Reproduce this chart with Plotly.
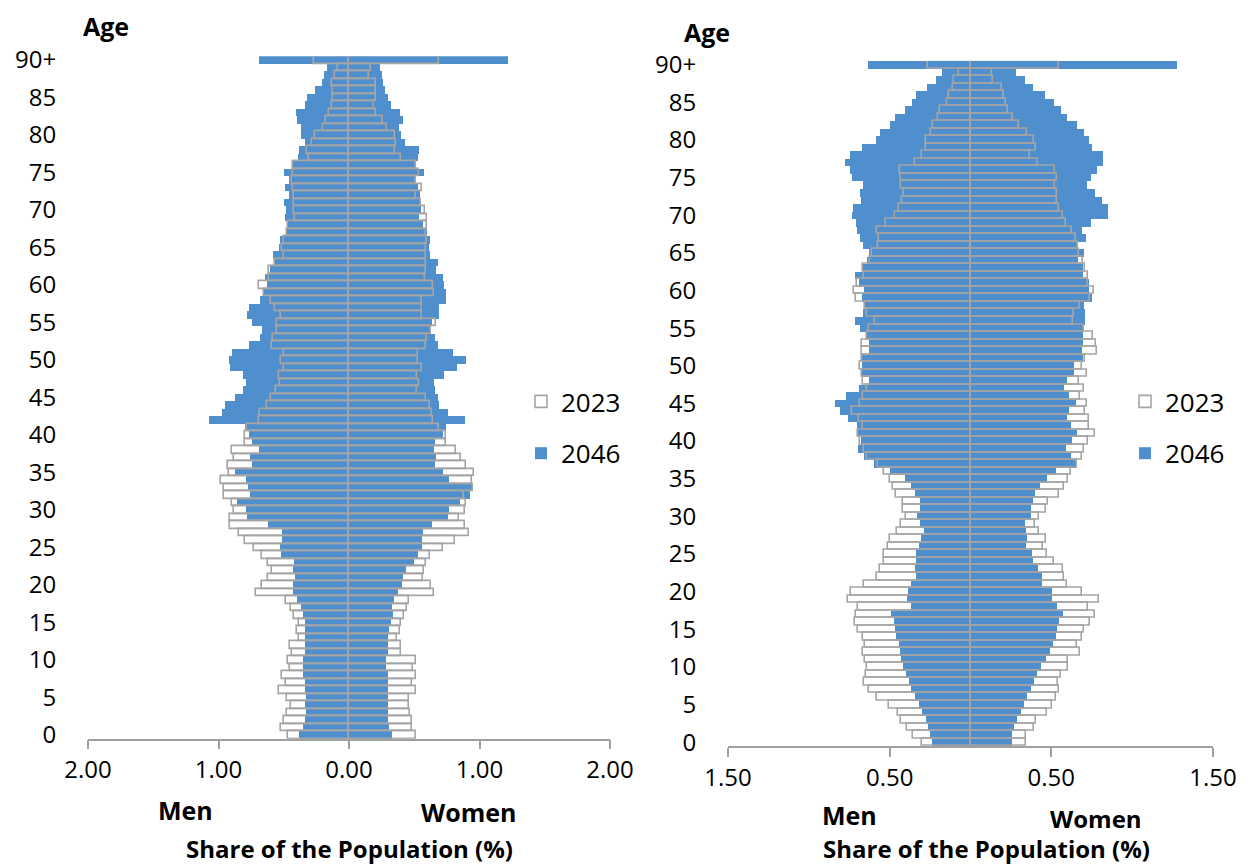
import plotly.graph_objects as go

ages = [str(i) for i in range(90)] + ["90+"]
age_ticks = [str(i) for i in range(0, 90, 5)] + ["90+"]

# ---------------- Left chart ----------------
left_men_2023 = [0.47, 0.523, 0.495, 0.477, 0.444, 0.475, 0.54, 0.48, 0.51, 0.45,
                 0.464, 0.434, 0.454, 0.38, 0.40, 0.38, 0.42, 0.446, 0.48, 0.714,
                 0.666, 0.62, 0.59, 0.62, 0.67, 0.73, 0.80, 0.84, 0.91, 0.91,
                 0.885, 0.90, 0.957, 0.957, 0.98, 0.92, 0.93, 0.88, 0.90, 0.80,
                 0.80, 0.78, 0.69, 0.68, 0.63, 0.60, 0.56, 0.525, 0.54, 0.50,
                 0.52, 0.50, 0.59, 0.58, 0.55, 0.55, 0.52, 0.57, 0.60, 0.65,
                 0.69, 0.61, 0.615, 0.57, 0.50, 0.51, 0.50, 0.477, 0.47, 0.416,
                 0.42, 0.42, 0.42, 0.426, 0.44, 0.426, 0.43, 0.31, 0.32, 0.28,
                 0.26, 0.20, 0.18, 0.15, 0.133, 0.125, 0.125, 0.128, 0.11, 0.087,
                 0.27]
left_women_2023 = [0.51, 0.48, 0.48, 0.464, 0.457, 0.457, 0.51, 0.48, 0.51, 0.49,
                   0.51, 0.40, 0.40, 0.365, 0.39, 0.40, 0.42, 0.444, 0.46, 0.65,
                   0.625, 0.564, 0.574, 0.59, 0.62, 0.72, 0.81, 0.92, 0.89, 0.845,
                   0.89, 0.90, 0.885, 0.95, 0.94, 0.957, 0.90, 0.855, 0.82, 0.745,
                   0.74, 0.69, 0.64, 0.635, 0.62, 0.59, 0.52, 0.536, 0.52, 0.556,
                   0.53, 0.53, 0.59, 0.60, 0.63, 0.67, 0.556, 0.56, 0.56, 0.65,
                   0.64, 0.58, 0.59, 0.59, 0.59, 0.59, 0.60, 0.59, 0.60, 0.60,
                   0.58, 0.55, 0.515, 0.56, 0.51, 0.54, 0.515, 0.40, 0.35, 0.36,
                   0.355, 0.288, 0.258, 0.204, 0.19, 0.21, 0.207, 0.207, 0.153, 0.166,
                   0.69]
left_men_2046 = [0.385, 0.355, 0.34, 0.33, 0.337, 0.33, 0.337, 0.34, 0.355, 0.355,
                 0.35, 0.34, 0.34, 0.34, 0.34, 0.34, 0.352, 0.37, 0.395, 0.426,
                 0.426, 0.416, 0.426, 0.42, 0.52, 0.525, 0.51, 0.51, 0.62, 0.78,
                 0.79, 0.855, 0.755, 0.775, 0.79, 0.87, 0.745, 0.76, 0.69, 0.745,
                 0.77, 0.80, 1.07, 0.97, 0.95, 0.87, 0.81, 0.79, 0.81, 0.91,
                 0.92, 0.90, 0.77, 0.68, 0.67, 0.74, 0.78, 0.77, 0.68, 0.65,
                 0.63, 0.64, 0.605, 0.57, 0.58, 0.54, 0.53, 0.48, 0.47, 0.49,
                 0.48, 0.50, 0.46, 0.49, 0.46, 0.50, 0.43, 0.39, 0.38, 0.34,
                 0.365, 0.37, 0.40, 0.41, 0.34, 0.32, 0.263, 0.21, 0.19, 0.17,
                 0.69]
left_women_2046 = [0.327, 0.306, 0.30, 0.30, 0.30, 0.30, 0.296, 0.30, 0.30, 0.28,
                   0.286, 0.30, 0.30, 0.30, 0.31, 0.32, 0.334, 0.33, 0.344, 0.378,
                   0.405, 0.41, 0.44, 0.50, 0.53, 0.56, 0.56, 0.566, 0.635, 0.755,
                   0.77, 0.85, 0.93, 0.95, 0.77, 0.72, 0.656, 0.67, 0.65, 0.66,
                   0.72, 0.745, 0.89, 0.76, 0.69, 0.68, 0.66, 0.65, 0.73, 0.83,
                   0.90, 0.80, 0.68, 0.66, 0.62, 0.635, 0.69, 0.69, 0.74, 0.74,
                   0.73, 0.72, 0.67, 0.68, 0.62, 0.61, 0.62, 0.60, 0.57, 0.536,
                   0.55, 0.55, 0.546, 0.53, 0.515, 0.574, 0.515, 0.53, 0.54, 0.43,
                   0.40, 0.38, 0.41, 0.39, 0.32, 0.30, 0.273, 0.263, 0.255, 0.237,
                   1.22]

# ---------------- Right chart ----------------
right_men_2023 = [0.299, 0.356, 0.394, 0.433, 0.447, 0.507, 0.579, 0.627, 0.66, 0.645,
                  0.641, 0.65, 0.666, 0.65, 0.664, 0.698, 0.717, 0.707, 0.698, 0.76,
                  0.742, 0.66, 0.579, 0.562, 0.533, 0.533, 0.513, 0.50, 0.455, 0.43,
                  0.402, 0.42, 0.42, 0.46, 0.478, 0.497, 0.538, 0.575, 0.64, 0.656,
                  0.682, 0.695, 0.664, 0.689, 0.73, 0.684, 0.664, 0.64, 0.664, 0.674,
                  0.682, 0.67, 0.674, 0.674, 0.641, 0.626, 0.593, 0.641, 0.654, 0.71,
                  0.72, 0.705, 0.658, 0.668, 0.623, 0.608, 0.573, 0.563, 0.58, 0.52,
                  0.47, 0.445, 0.423, 0.412, 0.43, 0.43, 0.437, 0.342, 0.303, 0.278,
                  0.278, 0.247, 0.23, 0.204, 0.186, 0.148, 0.132, 0.111, 0.10, 0.07,
                  0.266]
right_women_2023 = [0.345, 0.345, 0.394, 0.405, 0.472, 0.505, 0.526, 0.547, 0.54, 0.562,
                    0.60, 0.60, 0.68, 0.656, 0.687, 0.703, 0.738, 0.767, 0.726, 0.793,
                    0.692, 0.594, 0.58, 0.572, 0.516, 0.475, 0.448, 0.465, 0.425, 0.40,
                    0.425, 0.47, 0.482, 0.547, 0.58, 0.602, 0.62, 0.66, 0.689, 0.705,
                    0.726, 0.77, 0.736, 0.736, 0.71, 0.72, 0.676, 0.70, 0.674, 0.72,
                    0.687, 0.71, 0.784, 0.775, 0.759, 0.705, 0.637, 0.641, 0.678, 0.74,
                    0.763, 0.728, 0.728, 0.71, 0.697, 0.672, 0.662, 0.65, 0.63, 0.59,
                    0.57, 0.548, 0.534, 0.538, 0.52, 0.534, 0.52, 0.42, 0.37, 0.408,
                    0.39, 0.348, 0.297, 0.262, 0.23, 0.22, 0.21, 0.194, 0.14, 0.132,
                    0.55]
right_men_2046 = [0.24, 0.249, 0.262, 0.278, 0.297, 0.32, 0.346, 0.367, 0.383, 0.40,
                  0.42, 0.427, 0.437, 0.445, 0.458, 0.465, 0.476, 0.49, 0.365, 0.395,
                  0.387, 0.369, 0.34, 0.342, 0.34, 0.335, 0.32, 0.304, 0.29, 0.315,
                  0.328, 0.315, 0.315, 0.346, 0.369, 0.406, 0.497, 0.60, 0.66, 0.697,
                  0.676, 0.695, 0.70, 0.76, 0.81, 0.84, 0.77, 0.689, 0.625, 0.67,
                  0.67, 0.67, 0.63, 0.63, 0.645, 0.684, 0.713, 0.666, 0.654, 0.67,
                  0.656, 0.69, 0.717, 0.666, 0.64, 0.625, 0.662, 0.684, 0.70, 0.707,
                  0.734, 0.724, 0.678, 0.682, 0.664, 0.73, 0.748, 0.777, 0.744, 0.67,
                  0.583, 0.557, 0.50, 0.466, 0.406, 0.36, 0.336, 0.27, 0.216, 0.175,
                  0.633]
right_women_2046 = [0.254, 0.256, 0.266, 0.29, 0.312, 0.332, 0.35, 0.372, 0.392, 0.41,
                    0.437, 0.465, 0.49, 0.513, 0.53, 0.536, 0.545, 0.575, 0.534, 0.504,
                    0.504, 0.443, 0.44, 0.415, 0.388, 0.382, 0.345, 0.35, 0.345, 0.34,
                    0.377, 0.373, 0.386, 0.40, 0.427, 0.472, 0.53, 0.65, 0.62, 0.588,
                    0.627, 0.656, 0.62, 0.596, 0.612, 0.65, 0.608, 0.577, 0.596, 0.638,
                    0.638, 0.693, 0.687, 0.695, 0.695, 0.705, 0.707, 0.707, 0.705, 0.75,
                    0.736, 0.736, 0.695, 0.697, 0.662, 0.70, 0.666, 0.713, 0.69, 0.748,
                    0.85, 0.85, 0.816, 0.767, 0.72, 0.746, 0.78, 0.82, 0.82, 0.753,
                    0.73, 0.70, 0.66, 0.598, 0.557, 0.515, 0.46, 0.388, 0.334, 0.28,
                    1.28]

left_xticks = [-2, -1, 0, 1, 2]
left_xtext = ["2.00", "1.00", "0.00", "1.00", "2.00"]
right_xticks = [-1.5, -0.5, 0.5, 1.5]
right_xtext = ["1.50", "0.50", "0.50", "1.50"]

BLUE = "#4F8FCD"
GRAY = "#A5A5A5"
AXIS = "#A0A0A0"
FONT = "Open Sans"

fig = go.Figure()


def add_pyramid(men23, women23, men46, women46, xa, ya, legend):
    fig.add_trace(go.Bar(y=ages, x=[-v for v in men46], orientation="h", name="2046",
                         marker=dict(color=BLUE, line=dict(width=0)), xaxis=xa, yaxis=ya,
                         legend=legend, legendgroup="b", legendrank=2, showlegend=True))
    fig.add_trace(go.Bar(y=ages, x=women46, orientation="h", name="2046",
                         marker=dict(color=BLUE, line=dict(width=0)), xaxis=xa, yaxis=ya,
                         legend=legend, legendgroup="b", showlegend=False))
    fig.add_trace(go.Bar(y=ages, x=[-v for v in men23], orientation="h", name="2023",
                         marker=dict(color="rgba(255,255,255,0)", line=dict(color=GRAY, width=1.6)),
                         xaxis=xa, yaxis=ya, legend=legend, legendgroup="a", legendrank=1,
                         showlegend=True))
    fig.add_trace(go.Bar(y=ages, x=women23, orientation="h", name="2023",
                         marker=dict(color="rgba(255,255,255,0)", line=dict(color=GRAY, width=1.6)),
                         xaxis=xa, yaxis=ya, legend=legend, legendgroup="a", showlegend=False))


add_pyramid(left_men_2023, left_women_2023, left_men_2046, left_women_2046, "x", "y", "legend")
add_pyramid(right_men_2023, right_women_2023, right_men_2046, right_women_2046, "x2", "y2", "legend2")

# page body has an 8px margin: figure pixel = screen pixel - 8
OFF = 8
W, H = 1250 - OFF, 867 - OFF


def px(x):
    return (x - OFF) / W


def py(y):
    return 1 - (y - OFF) / H


xaxis_common = dict(showgrid=False, zeroline=False, showline=True, linecolor=AXIS, linewidth=1.5,
                    ticks="outside", ticklen=9, tickcolor=AXIS, tickwidth=1.5, automargin=False,
                    tickfont=dict(family=FONT, size=24, color="#000"), fixedrange=True)
yaxis_common = dict(type="category", categoryorder="array", categoryarray=ages,
                    tickmode="array", tickvals=age_ticks, ticktext=age_ticks,
                    showgrid=False, zeroline=False, showline=False, automargin=False,
                    ticks="outside", ticklen=26, tickcolor="rgba(0,0,0,0)",
                    tickfont=dict(family=FONT, size=24, color="#000"),
                    range=[-0.5, 90.5], fixedrange=True)

legend_common = dict(font=dict(family=FONT, size=26, color="#000"), bgcolor="rgba(0,0,0,0)",
                     traceorder="grouped", tracegroupgap=15, xanchor="left", yanchor="top",
                     itemclick=False, itemdoubleclick=False)

fig.update_layout(
    width=W, height=H,
    margin=dict(l=0, r=0, t=0, b=0, autoexpand=False),
    paper_bgcolor="white", plot_bgcolor="white",
    barmode="overlay", bargap=0,
    showlegend=True,
    xaxis=dict(domain=[px(88), px(610)], range=[-2, 2], tickvals=left_xticks, ticktext=left_xtext,
               anchor="y", **xaxis_common),
    yaxis=dict(domain=[py(738.7), py(56.2)], anchor="x", **yaxis_common),
    xaxis2=dict(domain=[px(728), px(1213)], range=[-1.5, 1.5], tickvals=right_xticks,
                ticktext=right_xtext, anchor="y2", **xaxis_common),
    yaxis2=dict(domain=[py(746), py(60.8)], anchor="x2", **yaxis_common),
    legend=dict(x=px(521), y=py(378), **legend_common),
    legend2=dict(x=px(1125), y=py(378), **legend_common),
)

texts = [
    ("<b>Age</b>", 106, 26, 25),
    ("<b>Men</b>", 185, 810, 25),
    ("<b>Women</b>", 468, 812, 25),
    ("<b>Share of the Population (%)</b>", 349, 848, 24),
    ("<b>Age</b>", 707, 32, 25),
    ("<b>Men</b>", 849, 815, 25),
    ("<b>Women</b>", 1096, 818, 24),
    ("<b>Share of the Population (%)</b>", 987, 848, 24),
]
for t, x, y, s in texts:
    fig.add_annotation(text=t, x=px(x), y=py(y), xref="paper", yref="paper",
                       xanchor="center", yanchor="middle", showarrow=False,
                       font=dict(family=FONT, size=s, color="#000"))

fig.write_html("out.html")
